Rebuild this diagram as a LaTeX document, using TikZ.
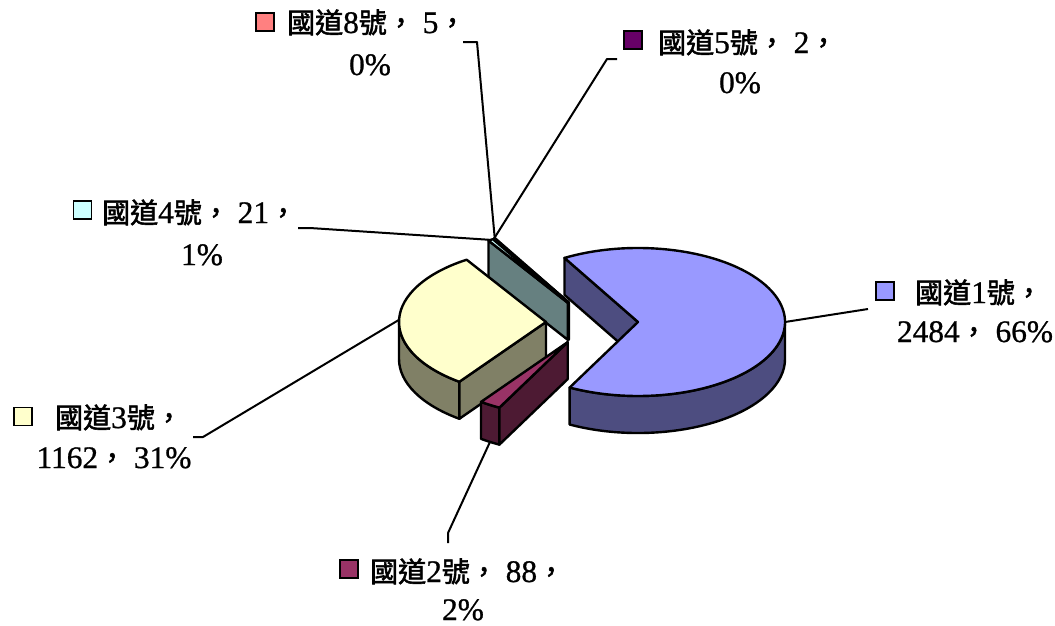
\documentclass[tikz,border=0pt]{standalone}
\usepackage{fontspec}
\setmainfont{Liberation Serif}[Scale=1.12,FakeBold=0.8]
\newfontfamily\cjk{Noto Sans CJK TC}[FakeBold=2]
\definecolor{caTop}{HTML}{9999FF}\definecolor{caSide}{HTML}{4D4D80}
\definecolor{cbTop}{HTML}{993366}\definecolor{cbSide}{HTML}{4D1A33}
\definecolor{ccTop}{HTML}{FFFFCC}\definecolor{ccSide}{HTML}{808066}
\definecolor{cdTop}{HTML}{CCFFFF}\definecolor{cdSide}{HTML}{668080}
\definecolor{ceTop}{HTML}{660066}\definecolor{ceSide}{HTML}{330033}
\definecolor{cfTop}{HTML}{FF8080}\definecolor{cfSide}{HTML}{804040}
\newcommand\PieTop[3]{({#1+147*cos(#3)},{#2-74*sin(#3)})}
\newcommand\PieBot[3]{({#1+147*cos(#3)},{#2-74*sin(#3)+37})}
\newcommand\SliceTop[5]{\filldraw[edge,fill=#5] (#1,#2) -- \PieTop{#1}{#2}{#3} arc[start angle={-(#3)},end angle={-(#4)},x radius=147,y radius=74] -- cycle;}
\newcommand\SliceRad[4]{\filldraw[edge,fill=#4] (#1,#2) -- \PieTop{#1}{#2}{#3} -- \PieBot{#1}{#2}{#3} -- ({#1},{#2+37}) -- cycle;}
\newcommand\SliceWall[5]{\filldraw[edge,fill=#5] \PieTop{#1}{#2}{#3} arc[start angle={-(#3)},end angle={-(#4)},x radius=147,y radius=74] -- \PieBot{#1}{#2}{#4} arc[start angle={-(#4)},end angle={-(#3)},x radius=147,y radius=74] -- cycle;}
\begin{document}
\begin{tikzpicture}[x=1pt,y=-1pt,
  edge/.style={draw=black,line width=2.4pt,line join=round},
  leader/.style={draw=black,line width=2pt,line join=round},
  lbl/.style={font=\fontsize{28}{34}\selectfont,inner sep=0pt},
  sq/.style={draw=black,line width=1.6pt,minimum size=18pt,inner sep=0pt}]
\useasboundingbox (0,0) rectangle (1055,625);
% back thin slices
\SliceRad{568.8}{302.5}{120.479}{cfSide}
\SliceTop{568.8}{302.5}{120.479}{120}{cfTop}
\SliceRad{568.6}{302.6}{120.67}{ceSide}
\SliceTop{568.6}{302.6}{120.67}{120.479}{ceTop}
\SliceRad{567.85}{302.85}{122.68}{cdSide}
\SliceTop{567.85}{302.85}{122.68}{120.67}{cdTop}
% slice 1
\SliceRad{638}{322}{120}{caSide}
\SliceWall{638}{322}{360}{242.297}{caSide}
\SliceTop{638}{322}{120}{-117.703}{caTop}
% slice 3
\SliceWall{546}{322}{233.876}{180}{ccSide}
\SliceRad{546}{322}{233.876}{ccSide}
\SliceTop{546}{322}{233.876}{122.68}{ccTop}
% slice 2
\SliceWall{567.7}{342.1}{242.297}{233.876}{cbSide}
\SliceRad{567.7}{342.1}{242.297}{cbSide}
\SliceTop{567.7}{342.1}{242.297}{233.876}{cbTop}
% leader end points on the pie
\path \PieTop{638}{322}{0} coordinate (e1);
\path \PieBot{567.7}{342.1}{238.09} coordinate (e2);
\path \PieTop{546}{322}{178.28} coordinate (e3);
\path \PieTop{567.85}{302.85}{121.675} coordinate (e4);
\path \PieTop{568.6}{302.6}{120.575} coordinate (e5);
\path \PieTop{568.8}{302.5}{120.24} coordinate (e8);
% leader bends
\coordinate (k1) at (868,309);
\coordinate (k2a) at (448,533); \coordinate (k2b) at (448,543);
\coordinate (k3a) at (203,437); \coordinate (k3b) at (193,437);
\coordinate (k4a) at (310,228); \coordinate (k4b) at (298,228);
\coordinate (k5a) at (607,59);  \coordinate (k5b) at (617,59);
\coordinate (k8a) at (477,42);  \coordinate (k8b) at (463,42);
\draw[leader] (e1) -- (k1);
\draw[leader] (e2) -- (k2a) -- (k2b);
\draw[leader] (e3) -- (k3a) -- (k3b);
\draw[leader] (e4) -- (k4a) -- (k4b);
\draw[leader] (e5) -- (k5a) -- (k5b);
\draw[leader] (e8) -- (k8a) -- (k8b);
% labels
\node[sq,fill=cfTop] (s8) at (265,22) {};
\node[lbl,anchor=base west] (t8a) at (287,33) {{\cjk 國道}8{\cjk 號，} 5{\cjk ，}};
\node[lbl,anchor=base] (t8b) at (370,75) {0\%};
\node[sq,fill=ceTop] (s5) at (633,40) {};
\node[lbl,anchor=base west] (t5a) at (658,53) {{\cjk 國道}5{\cjk 號，} 2{\cjk ，}};
\node[lbl,anchor=base] (t5b) at (740,93) {0\%};
\node[sq,fill=cdTop] (s4) at (82.5,210) {};
\node[lbl,anchor=base west] (t4a) at (102,223) {{\cjk 國道}4{\cjk 號，} 21{\cjk ，}};
\node[lbl,anchor=base] (t4b) at (202,265) {1\%};
\node[sq,fill=ccTop] (s3) at (23,416.5) {};
\node[lbl,anchor=base west] (t3a) at (55,428) {{\cjk 國道}3{\cjk 號，}};
\node[lbl,anchor=base] (t3b) at (114,468) {1162{\cjk ，} 31\%};
\node[sq,fill=cbTop] (s2) at (349,569) {};
\node[lbl,anchor=base west] (t2a) at (370,582) {{\cjk 國道}2{\cjk 號，} 88{\cjk ，}};
\node[lbl,anchor=base] (t2b) at (463,620) {2\%};
\node[sq,fill=caTop] (s1) at (885,291) {};
\node[lbl,anchor=base west] (t1a) at (915,303) {{\cjk 國道}1{\cjk 號，}};
\node[lbl,anchor=base] (t1b) at (975,342) {2484{\cjk ，} 66\%};
\end{tikzpicture}
\end{document}
